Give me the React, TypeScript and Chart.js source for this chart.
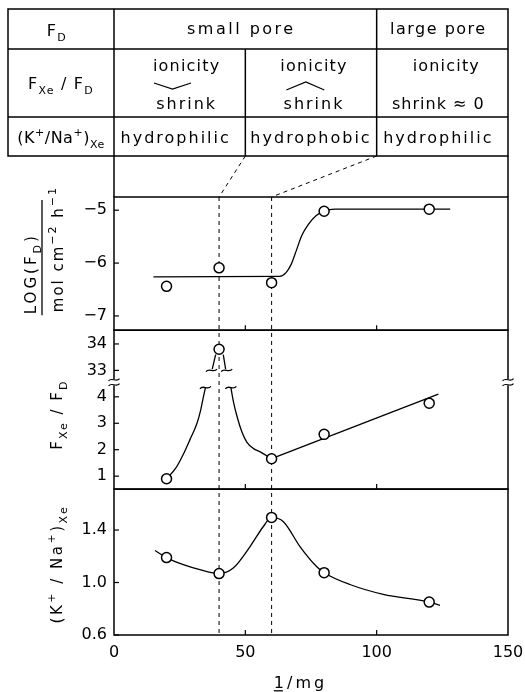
import React, { useEffect, useRef } from "react";
import { Chart, registerables } from "chart.js";

Chart.register(...registerables);

// ---------------- data ----------------
const doseX = [20, 40, 60, 80, 120]; // 1/mg
const logFD = [-6.44, -6.09, -6.37, -5.02, -4.98];
const fxeOverFd = [0.9, 33.8, 1.66, 2.58, 3.76];
const kNaXe = [1.19, 1.068, 1.496, 1.075, 0.851];

// hand-drawn fit curves
const logFdFitX = [15, 63, 65.5, 67.5, 69.5, 71.5, 74, 77, 80, 84, 128];
const logFdFitY = [-6.26, -6.25, -6.18, -6.02, -5.75, -5.48, -5.27, -5.1, -5.02, -4.98, -4.98];

const fxeRiseX = [20, 23.5, 26.4, 29, 31.5, 33, 34, 34.8];
const fxeRiseY = [0.9, 1.3, 1.83, 2.4, 2.97, 3.5, 3.98, 4.35];
const fxeFallX = [44.5, 45.5, 47, 48.6, 50.5, 53, 56, 60];
const fxeFallY = [4.35, 3.8, 3.2, 2.7, 2.3, 2.05, 1.9, 1.66];
const fxeLineX = [60, 123.5];
const fxeLineY = [1.66, 4.1];
const fxePeakLX = [37.4, 38.7];
const fxePeakLY = [33.05, 33.6];
const fxePeakRX = [41.6, 42.5];
const fxePeakRY = [33.6, 33.05];
const fxeBreakX = [37.1, 42.9, 34.8, 44.5];
const fxeBreakY = [33.0, 33.0, 4.35, 4.35];

const kNaFitX = [15.6, 20, 26.4, 32.7, 40, 45.4, 51.8, 56.8, 60, 64.5, 70.8, 77.2, 80, 89.8, 102.5, 120, 124.1];
const kNaFitY = [1.244, 1.19, 1.136, 1.098, 1.068, 1.11, 1.274, 1.425, 1.496, 1.463, 1.274, 1.12, 1.075, 0.985, 0.91, 0.851, 0.826];

// ticks
const xTickValues = [0, 50, 100, 150];
const logTickValues = [-7, -6, -5];
const fxeTickValues = [1, 2, 3, 4, 33, 34];
const kNaTickValues = [0.6, 1.0, 1.4];
const guideX = [40, 60];
const tableColumnX = [0, 50, 100, 150];

// broken F_Xe/F_D axis: values 33..34 are shown just above 4
const BREAK_SHIFT = 28;
const toBroken = (v: number) => (v >= 20 ? v - BREAK_SHIFT : v);
const fromBroken = (v: number) => (v > 4.5 ? v + BREAK_SHIFT : v);
const AXIS_BREAK_AT = 4.55;

const FONT = '"DejaVu Sans", sans-serif';
type Seg = [string, number]; // 0 normal, 1 sup, -1 sub

function segFont(size: number, kind: number) {
  return `${kind === 0 ? size : Math.round(size * 0.7)}px ${FONT}`;
}
function richWidth(ctx: any, segs: Seg[], size: number, ls: number) {
  let w = 0;
  ctx.letterSpacing = `${ls}px`;
  for (const [t, k] of segs) {
    ctx.font = segFont(size, k);
    w += ctx.measureText(t).width;
  }
  return w;
}
function drawRich(ctx: any, segs: Seg[], x: number, y: number, size: number, ls: number, center = false) {
  ctx.textAlign = "left";
  ctx.textBaseline = "alphabetic";
  let cx = center ? x - richWidth(ctx, segs, size, ls) / 2 : x;
  ctx.letterSpacing = `${ls}px`;
  for (const [t, k] of segs) {
    ctx.font = segFont(size, k);
    const dy = k === 1 ? -size * 0.45 : k === -1 ? size * 0.32 : 0;
    ctx.fillText(t, cx, y + dy);
    cx += ctx.measureText(t).width;
  }
}
function line(ctx: any, x1: number, y1: number, x2: number, y2: number) {
  ctx.beginPath();
  ctx.moveTo(x1, y1);
  ctx.lineTo(x2, y2);
  ctx.stroke();
}
function tilde(ctx: any, cx: number, cy: number, w: number) {
  ctx.beginPath();
  ctx.moveTo(cx - w / 2, cy + 1.2);
  ctx.bezierCurveTo(cx - w / 5, cy - 3.2, cx + w / 5, cy + 3.2, cx + w / 2, cy - 1.2);
  ctx.stroke();
}

const pts = (xs: number[], ys: number[], f = (v: number) => v) => xs.map((x, i) => ({ x, y: f(ys[i]) }));

const curve = (xs: number[], ys: number[], axis: string, f?: (v: number) => number) => ({
  data: pts(xs, ys, f),
  yAxisID: axis,
  borderColor: "#000",
  borderWidth: 1.3,
  pointRadius: 0,
  fill: false,
  cubicInterpolationMode: "monotone",
  order: 1,
});
const markers = (ys: number[], axis: string, f?: (v: number) => number) => ({
  data: pts(doseX, ys, f),
  yAxisID: axis,
  showLine: false,
  pointRadius: 5,
  pointBorderWidth: 1.5,
  pointBackgroundColor: "#fff",
  pointBorderColor: "#000",
  order: 0,
});

const decoPlugin = {
  id: "deco",
  beforeDatasetsDraw(chart: any) {
    const { ctx, chartArea: ca, scales } = chart;
    ctx.save();
    ctx.strokeStyle = "#000";
    ctx.lineWidth = 1;
    ctx.setLineDash([4, 4]);
    for (const v of guideX) {
      const px = scales.x.getPixelForValue(v);
      line(ctx, px, ca.top, px, ca.bottom);
    }
    ctx.restore();
  },
  afterDatasetsDraw(chart: any) {
    const { ctx, scales } = chart;
    ctx.save();
    ctx.strokeStyle = "#000";
    ctx.lineWidth = 1.3;
    fxeBreakX.forEach((bx, i) => {
      tilde(ctx, scales.x.getPixelForValue(bx), scales.yF.getPixelForValue(toBroken(fxeBreakY[i])), 11);
    });
    ctx.restore();
  },
  afterDraw(chart: any) {
    const { ctx, chartArea: ca, scales } = chart;
    const xs = scales.x;
    const panels = [scales.yL, scales.yF, scales.yK];
    ctx.save();
    ctx.strokeStyle = "#000";
    ctx.fillStyle = "#000";
    ctx.lineWidth = 1.5;
    ctx.setLineDash([]);

    // panel frames
    for (const s of panels) ctx.strokeRect(ca.left, s.top, ca.right - ca.left, s.bottom - s.top);

    // inward ticks
    ctx.lineWidth = 1.2;
    for (const s of panels) {
      for (const t of s.ticks) {
        const py = s.getPixelForValue(t.value);
        line(ctx, ca.left, py, ca.left + 5, py);
      }
      for (const v of [50, 100]) {
        const px = xs.getPixelForValue(v);
        line(ctx, px, s.bottom, px, s.bottom - 5);
      }
    }

    // axis breaks on the middle panel
    const by = scales.yF.getPixelForValue(AXIS_BREAK_AT);
    for (const ax of [ca.left, ca.right]) {
      ctx.fillStyle = "#fff";
      ctx.fillRect(ax - 2, by - 3, 4, 6);
      ctx.fillStyle = "#000";
      tilde(ctx, ax, by - 2.5, 11);
      tilde(ctx, ax, by + 2.5, 11);
    }

    // table
    const cx = tableColumnX.map((v) => xs.getPixelForValue(v));
    const L = 8;
    const T = 9;
    const rows = [49, 117, 156];
    ctx.lineWidth = 1.5;
    ctx.strokeRect(L, T, cx[3] - L, rows[2] - T);
    line(ctx, L, rows[0], cx[3], rows[0]);
    line(ctx, L, rows[1], cx[3], rows[1]);
    line(ctx, cx[0], T, cx[0], ca.top);
    line(ctx, cx[2], T, cx[2], rows[2]);
    line(ctx, cx[1], rows[0], cx[1], rows[2]);
    line(ctx, cx[3], rows[2], cx[3], ca.top);

    // chevrons
    ctx.lineWidth = 1.3;
    ctx.beginPath();
    ctx.moveTo(cx[0] + 40, 83);
    ctx.lineTo(cx[0] + 58.5, 89);
    ctx.lineTo(cx[0] + 77, 83);
    ctx.stroke();
    ctx.beginPath();
    ctx.moveTo(cx[1] + 41, 90);
    ctx.lineTo(cx[1] + 60.5, 82);
    ctx.lineTo(cx[1] + 79, 90);
    ctx.stroke();

    // dashed connectors
    ctx.lineWidth = 1;
    ctx.setLineDash([4, 4]);
    line(ctx, cx[1], rows[2], xs.getPixelForValue(guideX[0]), ca.top);
    line(ctx, cx[2], rows[2], xs.getPixelForValue(guideX[1]), ca.top);
    ctx.setLineDash([]);

    // table text
    const TS = 16;
    const LS = 2;
    const mid = (a: number, b: number) => (a + b) / 2;
    drawRich(ctx, [["F", 0], ["D", -1]], mid(L, cx[0]) - 4, 36, TS, 1.5, true);
    drawRich(ctx, [["small pore", 0]], mid(cx[0], cx[2]) - 4, 34, TS, 2.5, true);
    drawRich(ctx, [["large pore", 0]], mid(cx[2], cx[3]) - 4, 34, TS, 1.5, true);

    drawRich(ctx, [["F", 0], ["Xe", -1], [" / F", 0], ["D", -1]], mid(L, cx[0]), 89, TS, 1.2, true);
    drawRich(ctx, [["ionicity", 0]], mid(cx[0], cx[1]) + 7, 71, TS, 1.2, true);
    drawRich(ctx, [["shrink", 0]], mid(cx[0], cx[1]) + 7, 109, TS, LS, true);
    drawRich(ctx, [["ionicity", 0]], mid(cx[1], cx[2]) + 3, 71, TS, 1.2, true);
    drawRich(ctx, [["shrink", 0]], mid(cx[1], cx[2]) + 3, 109, TS, LS, true);
    drawRich(ctx, [["ionicity", 0]], mid(cx[2], cx[3]) + 4, 71, TS, 1.2, true);
    drawRich(ctx, [["shrink ≈ 0", 0]], mid(cx[2], cx[3]) - 4, 109, TS, 1, true);

    drawRich(ctx, [["(K", 0], ["+", 1], ["/Na", 0], ["+", 1], [")", 0], ["Xe", -1]], mid(L, cx[0]), 143, TS, 0.5, true);
    drawRich(ctx, [["hydrophilic", 0]], mid(cx[0], cx[1]) - 4, 143, TS, LS, true);
    drawRich(ctx, [["hydrophobic", 0]], mid(cx[1], cx[2]), 143, TS, LS, true);
    drawRich(ctx, [["hydrophilic", 0]], mid(cx[2], cx[3]) - 4, 143, TS, LS, true);

    // y axis titles (rotated)
    const rot = (bx: number, by2: number, fn: () => void) => {
      ctx.save();
      ctx.translate(bx, by2);
      ctx.rotate(-Math.PI / 2);
      fn();
      ctx.restore();
    };
    const yL = scales.yL;
    rot(36, yL.bottom - 16, () => drawRich(ctx, [["LOG(F", 0], ["D", -1], [")", 0]], 0, 0, 15, 3));
    ctx.lineWidth = 1.3;
    line(ctx, 42, yL.top + 3, 42, yL.bottom - 15);
    rot(63, yL.bottom - 18, () => drawRich(ctx, [["mol cm", 0], ["−2", 1], [" h", 0], ["−1", 1]], 0, 0, 15, 2));
    const yF = scales.yF;
    rot(62, (yF.top + yF.bottom) / 2 + 5, () =>
      drawRich(ctx, [["F", 0], ["Xe", -1], [" / F", 0], ["D", -1]], 0, 0, 15, 2, true)
    );
    const yK = scales.yK;
    rot(62, (yK.top + yK.bottom) / 2 + 2, () =>
      drawRich(ctx, [["(K", 0], ["+", 1], [" / Na", 0], ["+", 1], [")", 0], ["Xe", -1]], 0, 0, 15, 2.5, true)
    );

    // x axis title with underlined "1"
    const xt: Seg[] = [["1/mg", 0]];
    const xtc = 300.5;
    const w = richWidth(ctx, xt, 16, 3);
    drawRich(ctx, xt, xtc, 688, 16, 3, true);
    ctx.lineWidth = 1.3;
    line(ctx, xtc - w / 2, 690.8, xtc - w / 2 + 9, 690.8);

    ctx.restore();
  },
};

const tickFont = { family: FONT, size: 16 };

export default function App() {
  const ref = useRef<HTMLCanvasElement | null>(null);
  useEffect(() => {
    if (!ref.current) return;
    const yCommon = (weight: number) => ({
      type: "linear",
      position: "left",
      stack: "panels",
      stackWeight: weight,
      grid: { display: false, drawTicks: false },
      border: { display: false },
      ticks: { font: tickFont, color: "#000", padding: 7, autoSkip: false },
      afterFit: (s: any) => {
        s.width = 44;
        s.paddingTop = 0;
        s.paddingBottom = 0;
      },
    });
    const chart = new Chart(ref.current, {
      type: "line",
      data: {
        datasets: [
          curve(logFdFitX, logFdFitY, "yL"),
          markers(logFD, "yL"),
          curve(fxeRiseX, fxeRiseY, "yF", toBroken),
          curve(fxeFallX, fxeFallY, "yF", toBroken),
          curve(fxeLineX, fxeLineY, "yF", toBroken),
          curve(fxePeakLX, fxePeakLY, "yF", toBroken),
          curve(fxePeakRX, fxePeakRY, "yF", toBroken),
          markers(fxeOverFd, "yF", toBroken),
          curve(kNaFitX, kNaFitY, "yK"),
          markers(kNaXe, "yK"),
        ] as any,
      },
      options: {
        responsive: false,
        devicePixelRatio: 1,
        animation: false,
        events: [],
        layout: { padding: { left: 70, right: 17, top: 197, bottom: 0 } },
        plugins: { legend: { display: false }, tooltip: { enabled: false } },
        scales: {
          x: {
            type: "linear",
            min: 0,
            max: 150,
            position: "bottom",
            grid: { display: false, drawTicks: false },
            border: { display: false },
            ticks: { font: tickFont, color: "#000", padding: 8, maxRotation: 0, autoSkip: false },
            afterBuildTicks: (s: any) => {
              s.ticks = xTickValues.map((v) => ({ value: v }));
            },
            afterFit: (s: any) => {
              s.height = 57;
              s.paddingLeft = 0;
              s.paddingRight = 0;
            },
          },
          yK: {
            ...yCommon(146),
            min: 0.6,
            max: 1.712,
            afterBuildTicks: (s: any) => {
              s.ticks = kNaTickValues.map((v) => ({ value: v }));
            },
            ticks: { ...yCommon(1).ticks, callback: (v: any) => Number(v).toFixed(1) },
          },
          yF: {
            ...yCommon(159),
            min: 0.51,
            max: 6.52,
            afterBuildTicks: (s: any) => {
              s.ticks = fxeTickValues.map((v) => ({ value: toBroken(v) }));
            },
            ticks: { ...yCommon(1).ticks, callback: (v: any) => String(Math.round(fromBroken(Number(v)))) },
          },
          yL: {
            ...yCommon(133.3),
            min: -7.27,
            max: -4.75,
            afterBuildTicks: (s: any) => {
              s.ticks = logTickValues.map((v) => ({ value: v }));
            },
            ticks: { ...yCommon(1).ticks, callback: (v: any) => "−" + Math.abs(Number(v)) },
          },
        } as any,
      },
      plugins: [decoPlugin],
    } as any);
    return () => chart.destroy();
  }, []);
  return (
    <div style={{ position: "absolute", left: 0, top: 0, width: 525, height: 692, background: "#fff" }}>
      <canvas ref={ref} width={525} height={692} style={{ display: "block" }} />
    </div>
  );
}
